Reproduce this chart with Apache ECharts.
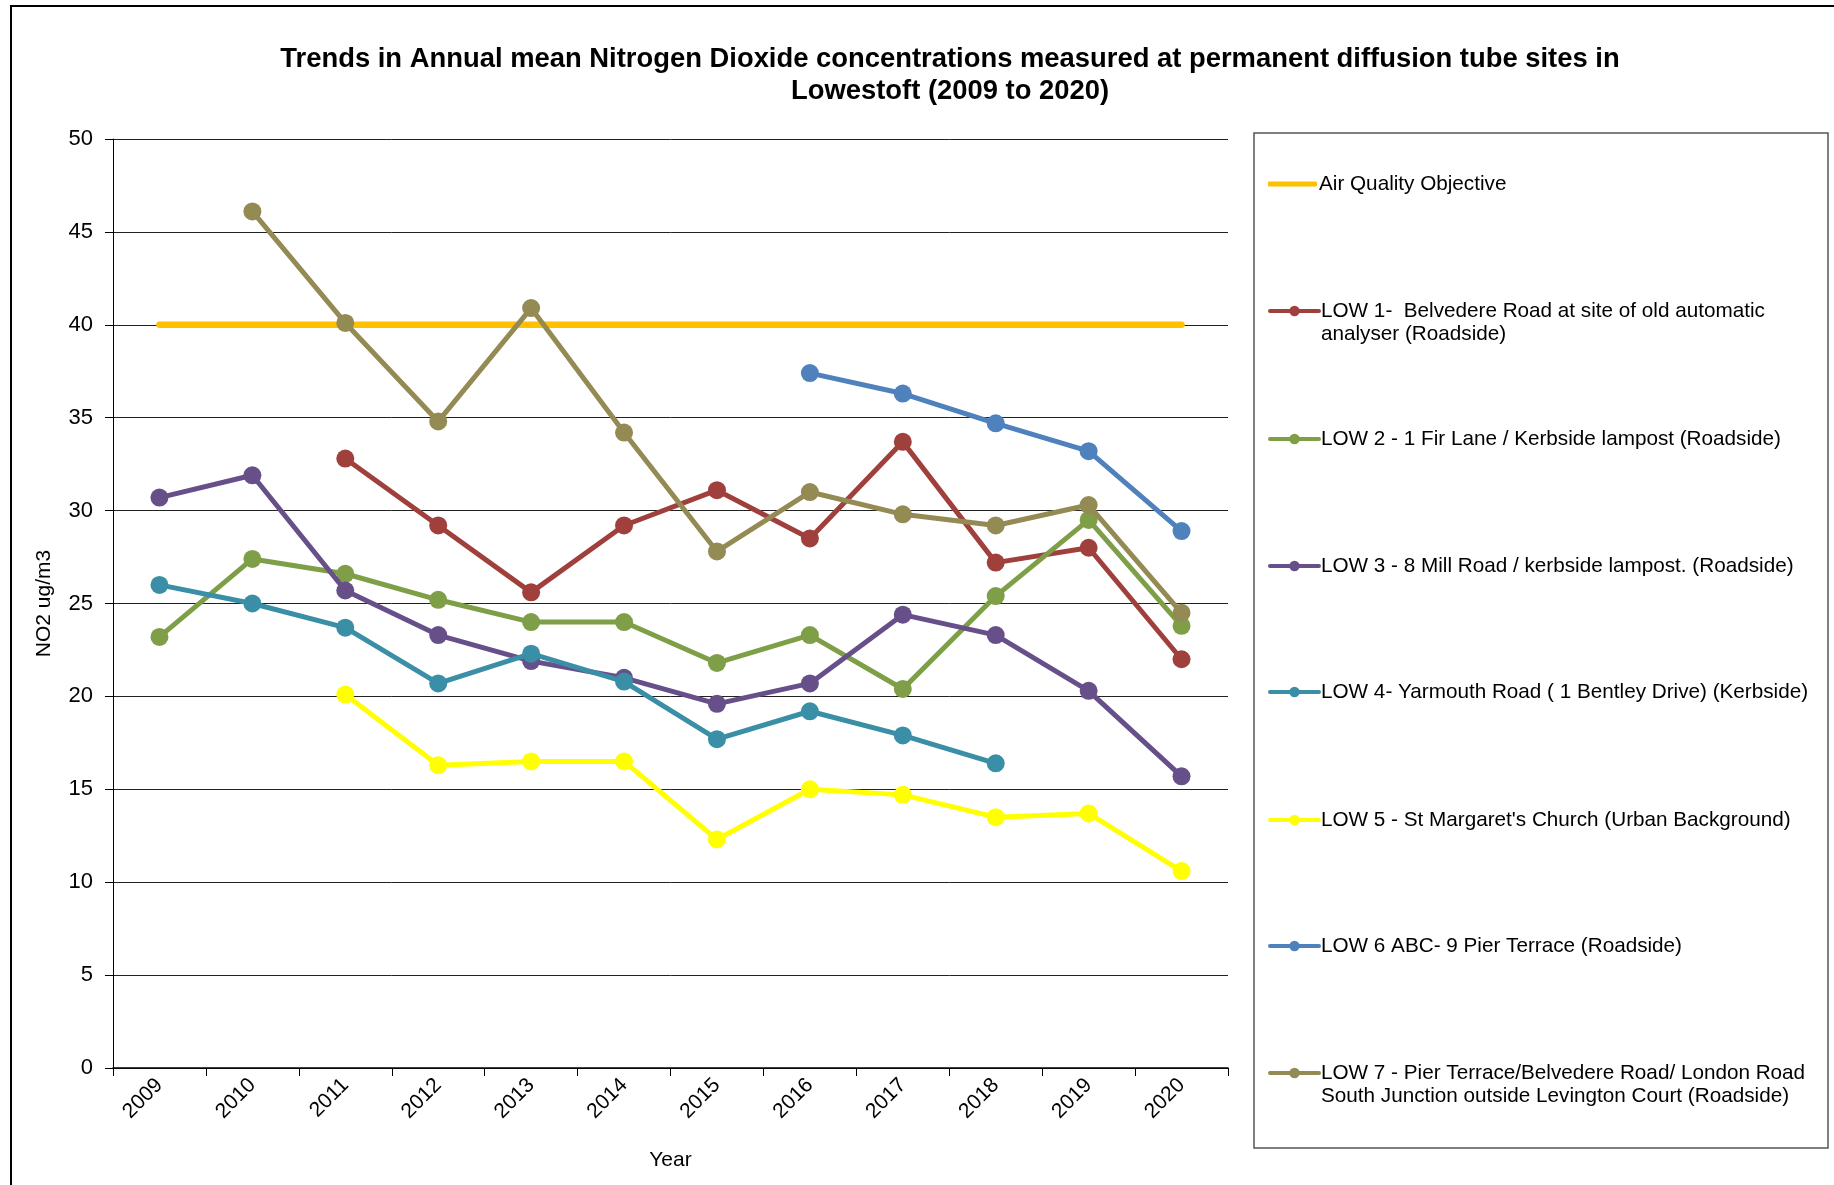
<!DOCTYPE html>
<html>
<head>
<meta charset="utf-8">
<script src="https://cdn.jsdelivr.net/npm/echarts@6/dist/echarts.min.js"></script>
<style>
html,body{margin:0;padding:0;background:#fff;}
#chart{width:1834px;height:1185px;}
</style>
</head>
<body>
<div id="chart"></div>
<script>
const years = ['2009','2010','2011','2012','2013','2014','2015','2016','2017','2018','2019','2020'];
const yTicks = [0,5,10,15,20,25,30,35,40,45,50];

const seriesNames = [
  'Air Quality Objective',
  'LOW 1-  Belvedere Road at site of old automatic\nanalyser (Roadside)',
  'LOW 2 - 1 Fir Lane / Kerbside lampost (Roadside)',
  'LOW 3 - 8 Mill Road / kerbside lampost. (Roadside)',
  'LOW 4- Yarmouth Road ( 1 Bentley Drive) (Kerbside)',
  "LOW 5 - St Margaret's Church (Urban Background)",
  'LOW 6 ABC- 9 Pier Terrace (Roadside)',
  'LOW 7 - Pier Terrace/Belvedere Road/ London Road\nSouth Junction outside Levington Court (Roadside)'
];

const aqo  = [40,40,40,40,40,40,40,40,40,40,40,40];
const low1 = [null,null,32.8,29.2,25.6,29.2,31.1,28.5,33.7,27.2,28.0,22.0];
const low2 = [23.2,27.4,26.6,25.2,24.0,24.0,21.8,23.3,20.4,25.4,29.5,23.8];
const low3 = [30.7,31.9,25.7,23.3,21.9,21.0,19.6,20.7,24.4,23.3,20.3,15.7];
const low4 = [26.0,25.0,23.7,20.7,22.3,20.8,17.7,19.2,17.9,16.4,null,null];
const low5 = [null,null,20.1,16.3,16.5,16.5,12.3,15.0,14.7,13.5,13.7,10.6];
const low6 = [null,null,null,null,null,null,null,37.4,36.3,34.7,33.2,28.9];
const low7 = [null,46.1,40.1,34.8,40.9,34.2,27.8,31.0,29.8,29.2,30.3,24.5];

const colors = ['#FFC000','#A0403C','#7E9E47','#67508A','#3A8FA7','#FFFF00','#4F81BD','#948A54'];
const dataSets = [aqo, low1, low2, low3, low4, low5, low6, low7];

const FONT = 'Arial, "Liberation Sans", sans-serif';

const series = dataSets.map((d, i) => {
  const isAqo = i === 0;
  return {
    name: seriesNames[i],
    type: 'line',
    data: d,
    connectNulls: false,
    symbol: isAqo ? 'none' : 'circle',
    symbolSize: 18,
    showSymbol: !isAqo,
    lineStyle: { color: colors[i], width: isAqo ? 6.5 : 5, cap: 'round' },
    itemStyle: { color: colors[i] },
    emphasis: { disabled: true },
    z: isAqo ? 1 : 2 + i,
    animation: false
  };
});

// legend item vertical centers (first text line)
const legendCenters = [184, 311, 439, 566, 692, 820, 946, 1073];
const legends = seriesNames.map((n, i) => {
  const twoLine = n.indexOf('\n') >= 0;
  const isAqo = i === 0;
  return {
    data: isAqo ? [{ name: n, icon: 'roundRect' }] : [n],
    left: 1268,
    top: twoLine ? legendCenters[i] - 34.5 : legendCenters[i] - 11.5,
    orient: 'vertical',
    padding: 0,
    itemWidth: 49,
    itemHeight: isAqo ? 5 : 13,
    itemGap: 0,
    selectedMode: false,
    lineStyle: { width: 4 },
    formatter: twoLine ? '\n{name}' : '{name}',
    textStyle: { fontFamily: FONT, fontSize: 20.7, color: '#000', lineHeight: 23, padding: [0,0,0,-3] }
  };
});

const chart = echarts.init(document.getElementById('chart'), null, { renderer: 'canvas' });
chart.setOption({
  backgroundColor: '#fff',
  animation: false,
  title: {
    text: 'Trends in Annual mean Nitrogen Dioxide concentrations measured at permanent diffusion tube sites in\nLowestoft (2009 to 2020)',
    left: 945,
    top: 38,
    textAlign: 'center',
    textStyle: { fontFamily: FONT, fontSize: 27.4, fontWeight: 'bold', color: '#000', lineHeight: 32 }
  },
  legend: legends,
  grid: { left: 113, right: 606, top: 139, bottom: 117, containLabel: false },
  xAxis: {
    type: 'category',
    data: years,
    boundaryGap: true,
    name: 'Year',
    nameLocation: 'middle',
    nameGap: 82,
    nameTextStyle: { fontFamily: FONT, fontSize: 21, color: '#000' },
    axisLine: { show: true, lineStyle: { color: '#000', width: 1.5 } },
    axisTick: { show: true, length: 8, alignWithLabel: false, lineStyle: { color: '#000' } },
    axisLabel: { rotate: 45, margin: 14, fontFamily: FONT, fontSize: 21, color: '#000', interval: 0 },
    splitLine: { show: false }
  },
  yAxis: {
    type: 'value',
    min: yTicks[0],
    max: yTicks[yTicks.length - 1],
    interval: 5,
    name: 'NO2 ug/m3',
    nameLocation: 'middle',
    nameGap: 58,
    nameRotate: 90,
    nameTextStyle: { fontFamily: FONT, fontSize: 21, color: '#000' },
    axisLine: { show: true, lineStyle: { color: '#000', width: 1 } },
    axisTick: { show: true, length: 8, lineStyle: { color: '#000' } },
    axisLabel: { margin: 20, fontFamily: FONT, fontSize: 22, color: '#000' },
    splitLine: { show: true, lineStyle: { color: '#222', width: 1 } }
  },
  graphic: [
    { type: 'rect', shape: { x: 11, y: 6, width: 1900, height: 1300 }, style: { fill: null, stroke: '#000', lineWidth: 2 }, silent: true, z: -10 },
    { type: 'rect', shape: { x: 1254, y: 133, width: 574, height: 1015 }, style: { fill: null, stroke: '#555', lineWidth: 1.5 }, silent: true, z: -5 }
  ],
  series: series
});
</script>
</body>
</html>
